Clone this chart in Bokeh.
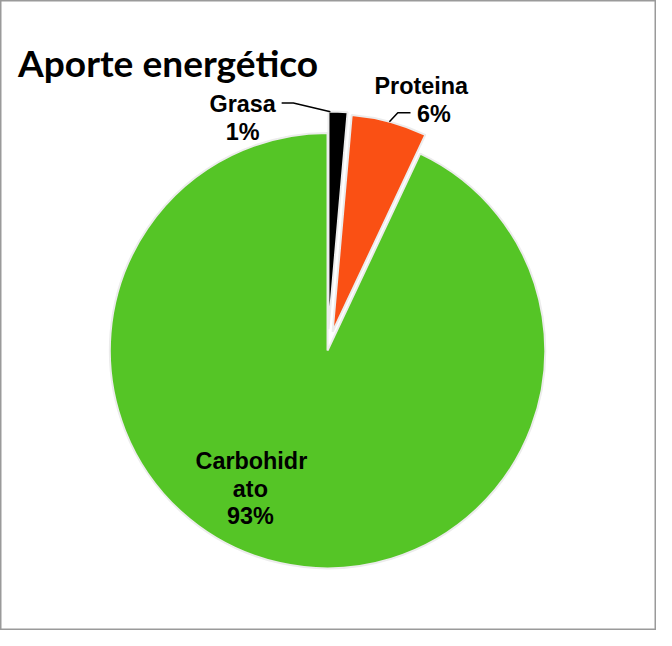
import math
from bokeh.plotting import figure
from bokeh.models import Range1d, ColumnDataSource
from bokeh.core.properties import value
from bokeh.embed import file_html
from bokeh.resources import INLINE

# ---- data ----
title = "Aporte energético"
categories = ["Grasa", "Proteina", "Carbohidrato"]
values = [1.4, 5.6, 93.0]
pct_labels = ["1%", "6%", "93%"]
colors = ["#000000", "#fa5014", "#55c526"]

# ---- layout (reference pixel coordinates, y downward) ----
W, H = 672, 646
FW, FH = 656, 630
S = FW / W
CX, CY, R = 335, 359, 223
explode = [22, 20, 0]
# label lines: (text, center x, baseline y)
label_lines = [
    [(categories[0], 248, 106), (pct_labels[0], 248, 135)],
    [(categories[1], 431, 88), (pct_labels[1], 444, 116)],
    [(categories[2][:9], 257, 472), (categories[2][9:], 256, 501), (pct_labels[2], 256, 529)],
]
leaders = {0: ((288, 105), (300, 105), 0.1), 1: ((420, 115), (407, 115), 0.5)}


def Y(y):
    return H - y


def px(n):
    return "%.1fpx" % (n * S)


p = figure(width=FW, height=FH, x_range=Range1d(0, W), y_range=Range1d(0, H),
           output_backend="svg", toolbar_location=None,
           x_axis_location=None, y_axis_location=None, min_border=0)
p.grid.visible = False
p.outline_line_color = "#9a9a9a"
p.outline_line_width = 2
p.background_fill_color = "white"

total = sum(values)
cum = 0.0
xs, ys, sa, ea, ends = [], [], [], [], []
for i, v in enumerate(values):
    c0 = cum / total
    c1 = (cum + v) / total
    cum += v
    mid = math.pi / 2 - 2 * math.pi * (c0 + c1) / 2
    ox = explode[i] * math.cos(mid)
    oy = explode[i] * math.sin(mid)
    x0, y0 = CX + ox, Y(CY) + oy
    xs.append(x0)
    ys.append(y0)
    sa.append(math.pi / 2 - 2 * math.pi * c1)
    ea.append(math.pi / 2 - 2 * math.pi * c0)
    if i in leaders:
        f = leaders[i][2]
        a = math.pi / 2 - 2 * math.pi * (c0 + f * (c1 - c0))
        ends.append((i, x0 + R * math.cos(a), y0 + R * math.sin(a)))

src = ColumnDataSource(dict(x=xs, y=ys, sa=sa, ea=ea, color=colors))
p.wedge(x="x", y="y", radius=R * S, radius_units="screen", start_angle="sa", end_angle="ea",
        direction="anticlock", fill_color="color", line_color="#ececec", line_width=2,
        source=src)

for i, ex, ey in ends:
    (ax, ay), (bx, by), _ = leaders[i]
    p.line([ax, bx, ex], [Y(ay), Y(by), ey], line_color="black", line_width=1.5)

for lines in label_lines:
    for t, lx, ly in lines:
        p.text(x=[lx], y=[Y(ly)], text=[t], text_align="center", text_baseline="alphabetic",
               text_font=value("Liberation Sans"), text_font_style="bold",
               text_font_size=px(24), text_color="black")

p.text(x=[18], y=[Y(64)], text=[title], text_align="left", text_baseline="alphabetic",
       text_font=value("Lato"), text_font_style="bold", text_font_size=px(38),
       text_color="black")

open("out.html", "w").write(file_html(p, INLINE))
